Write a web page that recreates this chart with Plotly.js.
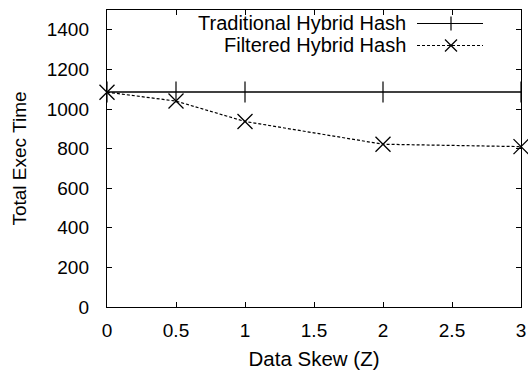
<!DOCTYPE html>
<html>
<head>
<meta charset="utf-8">
<script src="https://cdn.plot.ly/plotly-3.0.1.min.js"></script>
<style>html,body{margin:0;padding:0;background:#fff;}#chart{width:528px;height:373px;}</style>
</head>
<body>
<div id="chart"></div>
<script>
const skew = [0, 0.5, 1, 2, 3];
const traditionalHybridHash = [1086, 1086, 1086, 1086, 1086];
const filteredHybridHash = [1085, 1040, 937, 822, 810];
const seriesNames = ["Traditional Hybrid Hash", "Filtered Hybrid Hash"];
const xTicks = [0, 0.5, 1, 1.5, 2, 2.5, 3];
const xTickText = ["0", "0.5", "1", "1.5", "2", "2.5", "3"];
const yTicks = [0, 200, 400, 600, 800, 1000, 1200, 1400];

const FONT = "Liberation Sans, Arial, Helvetica, sans-serif";
const FS = 19;
const FS2 = 20.5;
const FSL = 20;

const traces = [
  {
    x: skew, y: traditionalHybridHash, name: seriesNames[0],
    mode: "lines+markers",
    line: {color: "#000", width: 1.4},
    marker: {symbol: "line-ns", size: 15, color: "#000", line: {color: "#000", width: 1.2}},
    showlegend: false, cliponaxis: false
  },
  {
    x: skew, y: filteredHybridHash, name: seriesNames[1],
    mode: "lines+markers",
    line: {color: "#000", width: 1.2, dash: "3px,2px"},
    marker: {symbol: "x-thin-open", size: 15, color: "#000", line: {color: "#000", width: 1.3}},
    showlegend: false, cliponaxis: false
  }
];

// Manual legend (gnuplot style: text right-aligned, sample to the right)
const legY = [23.5, 45.5];
function px(x) { return (x - 107) / 414; }
function py(y) { return 1 - (y - 10) / 297; }
const annotations = seriesNames.map((n, i) => ({
  xref: "paper", yref: "paper",
  x: px(408), y: py(legY[i]),
  xanchor: "right", yanchor: "middle",
  text: n, showarrow: false,
  font: {family: FONT, size: FSL, color: "#000"}
}));
const shapes = [
  {type: "line", xref: "paper", yref: "paper", x0: px(417), x1: px(483), y0: py(legY[0]), y1: py(legY[0]), line: {color: "#000", width: 1.2}},
  {type: "line", xref: "paper", yref: "paper", x0: px(451), x1: px(451), y0: py(legY[0] - 7), y1: py(legY[0] + 7), line: {color: "#000", width: 1.2}},
  {type: "line", xref: "paper", yref: "paper", x0: px(417), x1: px(483), y0: py(legY[1]), y1: py(legY[1]), line: {color: "#000", width: 1.1, dash: "3px,2px"}},
  {type: "line", xref: "paper", yref: "paper", x0: px(445), x1: px(457), y0: py(legY[1] - 6), y1: py(legY[1] + 6), line: {color: "#000", width: 1.2}},
  {type: "line", xref: "paper", yref: "paper", x0: px(445), x1: px(457), y0: py(legY[1] + 6), y1: py(legY[1] - 6), line: {color: "#000", width: 1.2}}
];

const layout = {
  width: 528, height: 373,
  margin: {l: 107, r: 7, t: 10, b: 66, pad: 0},
  paper_bgcolor: "#fff", plot_bgcolor: "#fff",
  font: {family: FONT, size: FS, color: "#000"},
  showlegend: false,
  xaxis: {
    range: [0, 3], tickvals: xTicks, ticktext: xTickText,
    showgrid: false, zeroline: false,
    showline: true, linecolor: "#000", linewidth: 1.2, mirror: "ticks",
    ticks: "inside", ticklen: 5, tickwidth: 1, tickcolor: "#000",
    ticklabelstandoff: 6,
    tickfont: {family: FONT, size: FS, color: "#000"},
    title: {text: "Data Skew (Z)", font: {family: FONT, size: FS2, color: "#000"}, standoff: 11},
    automargin: false
  },
  yaxis: {
    range: [0, 1500], tickvals: yTicks,
    showgrid: false, zeroline: false,
    showline: true, linecolor: "#000", linewidth: 1.2, mirror: "ticks",
    ticks: "inside", ticklen: 5, tickwidth: 1, tickcolor: "#000",
    ticklabelstandoff: 13,
    tickfont: {family: FONT, size: FS, color: "#000"},
    title: {text: "Total Exec Time", font: {family: FONT, size: FS, color: "#000"}, standoff: 15},
    automargin: false
  },
  annotations: annotations,
  shapes: shapes
};

Plotly.newPlot("chart", traces, layout, {displayModeBar: false, staticPlot: true});
</script>
</body>
</html>
